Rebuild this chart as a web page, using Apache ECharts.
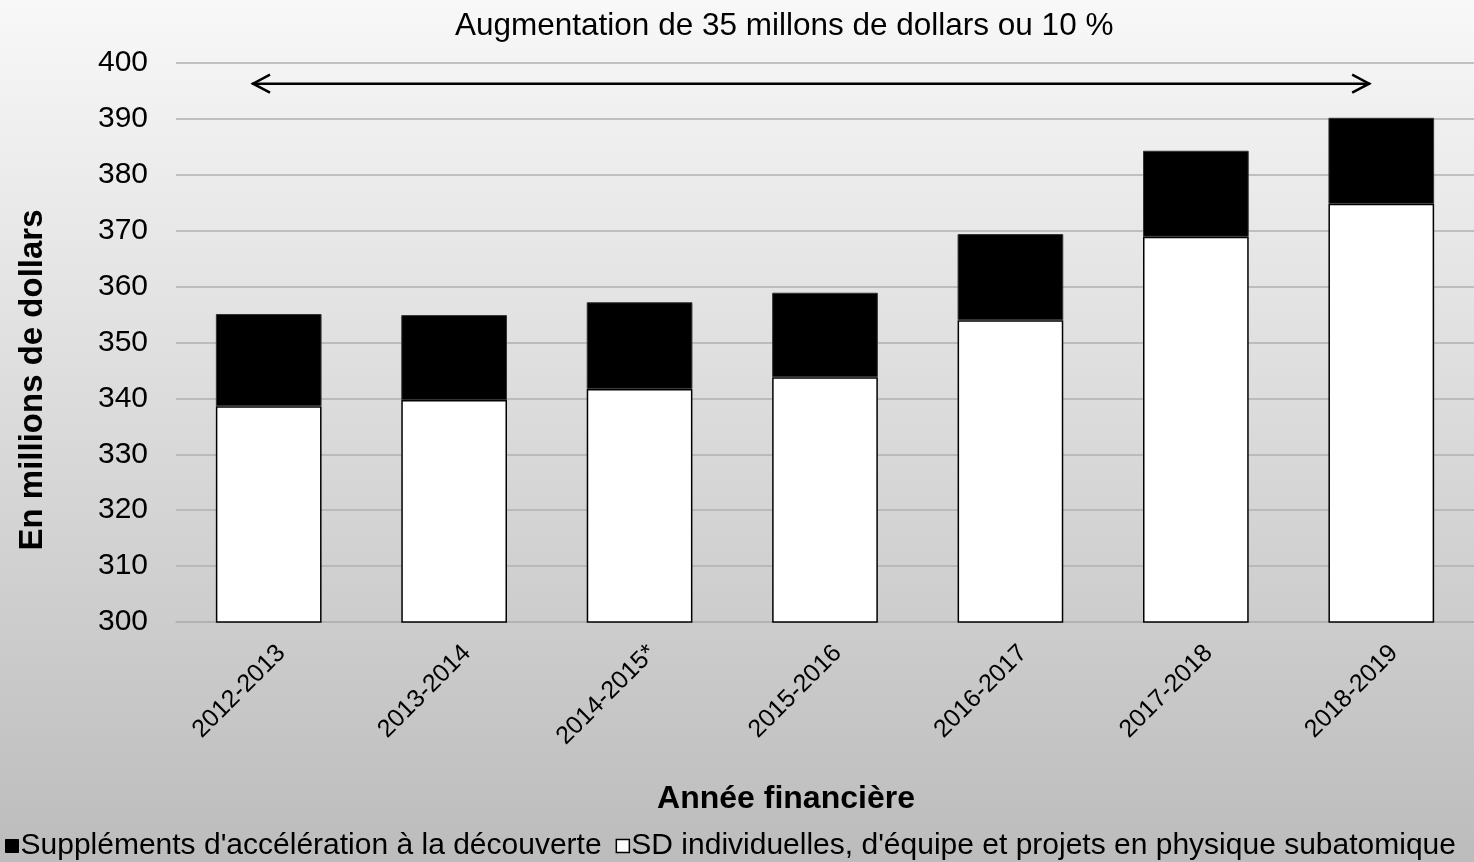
<!DOCTYPE html>
<html>
<head>
<meta charset="utf-8">
<script src="https://cdn.jsdelivr.net/npm/echarts@6/dist/echarts.min.js"></script>
<style>
  html, body { margin: 0; padding: 0; }
  #main { width: 1474px; height: 862px; }
</style>
</head>
<body>
<div id="main"></div>
<script>
// données
const annees = ['2012-2013', '2013-2014', '2014-2015*', '2015-2016', '2016-2017', '2017-2018', '2018-2019']
const sdIndividuelles = [338.6, 339.7, 341.7, 343.8, 354.0, 368.9, 374.8]
const supplements = [16.5, 15.2, 15.5, 15.1, 15.4, 15.4, 15.4]
const yTicks = { min: 300, max: 400, interval: 10 }
const flecheValeur = 396.3

const nomSupp = "Suppléments d'accélération à la découverte"
const nomSD = "SD individuelles, d'équipe et projets en physique subatomique"
const police = 'Liberation Sans'

const chart = echarts.init(document.getElementById('main'))
chart.setOption({
  animation: false,
  backgroundColor: new echarts.graphic.LinearGradient(0, 0, 0, 1, [
    { offset: 0, color: '#f8f8f8' },
    { offset: 1, color: '#bcbcbc' }
  ]),
  textStyle: { fontFamily: police },
  title: {
    text: 'Augmentation de 35 millons de dollars ou 10 %',
    left: 450,
    top: 5,
    textStyle: { fontFamily: police, fontSize: 31.5, fontWeight: 'normal', color: '#000' }
  },
  legend: {
    data: [
      { name: nomSupp, itemStyle: { color: '#000', borderColor: '#000', borderWidth: 1 } },
      { name: nomSD, itemStyle: { color: '#fff', borderColor: '#000', borderWidth: 1.5 } }
    ],
    left: 0,
    top: 826,
    icon: 'rect',
    itemWidth: 13,
    itemHeight: 13,
    itemGap: 14,
    textStyle: { fontFamily: police, fontSize: 30, color: '#000', padding: [0, 0, 0, -3] }
  },
  grid: { left: 176, right: 0, top: 63, bottom: 240 },
  xAxis: {
    type: 'category',
    data: annees,
    name: 'Année financière',
    nameLocation: 'middle',
    nameGap: 161,
    nameTextStyle: { fontFamily: police, fontSize: 32, fontWeight: 'bold', color: '#000', padding: [0, 78, 0, 0] },
    axisLine: { show: true, lineStyle: { color: '#b0b0b0', width: 1.5 } },
    axisTick: { show: false },
    axisLabel: { rotate: 45, fontSize: 25, color: '#000', margin: 40, padding: [0, -18, 0, 0], fontFamily: police }
  },
  yAxis: {
    type: 'value',
    min: yTicks.min,
    max: yTicks.max,
    interval: yTicks.interval,
    axisLine: { show: false },
    axisTick: { show: false },
    splitLine: { lineStyle: { color: '#b0b0b0', width: 1.5 } },
    axisLabel: { fontSize: 30, color: '#000', margin: 28, fontFamily: police }
  },
  series: [
    {
      name: nomSD,
      type: 'bar',
      stack: 'total',
      barWidth: '57%',
      data: sdIndividuelles,
      itemStyle: { color: '#fff', borderColor: '#000', borderWidth: 1.5 }
    },
    {
      name: nomSupp,
      type: 'bar',
      stack: 'total',
      barWidth: '57%',
      data: supplements,
      itemStyle: { color: '#000', borderColor: '#333', borderWidth: 1 }
    }
  ]
})

// flèche double et titre de l'axe vertical
function dessinerAnnotations () {
  const bande = chart.convertToPixel({ xAxisIndex: 0 }, 1) - chart.convertToPixel({ xAxisIndex: 0 }, 0)
  const x0 = chart.convertToPixel({ xAxisIndex: 0 }, 0) - bande * 0.09
  const x1 = chart.convertToPixel({ xAxisIndex: 0 }, annees.length - 1) - bande * 0.06
  const y = chart.convertToPixel({ yAxisIndex: 0 }, flecheValeur)
  const trait = { stroke: '#000', lineWidth: 2.5, fill: null }
  chart.setOption({
    graphic: [
      { type: 'line', shape: { x1: x0, y1: y, x2: x1, y2: y }, style: trait, silent: true },
      { type: 'polyline', shape: { points: [[x0 + 18, y - 9], [x0 + 1, y], [x0 + 18, y + 9]] }, style: trait, silent: true },
      { type: 'polyline', shape: { points: [[x1 - 18, y - 9], [x1 - 1, y], [x1 - 18, y + 9]] }, style: trait, silent: true },
      {
        type: 'text',
        x: 33,
        y: 380,
        rotation: Math.PI / 2,
        style: {
          text: 'En millions de dollars',
          font: 'bold 33px "Liberation Sans"',
          fill: '#000',
          align: 'center',
          verticalAlign: 'middle'
        },
        silent: true
      }
    ]
  })
}
dessinerAnnotations()
</script>
</body>
</html>
